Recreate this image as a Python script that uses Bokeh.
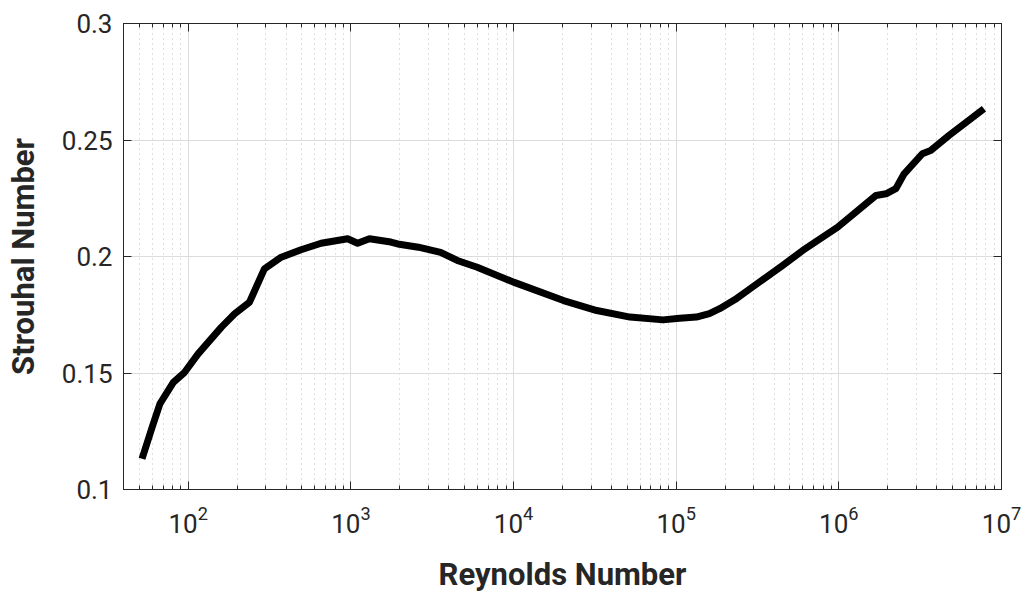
from bokeh.plotting import figure
from bokeh.models import (FixedTicker, Range1d, LogAxis, LinearAxis,
                          CustomJSTickFormatter, LogTickFormatter)
from bokeh.embed import file_html
from bokeh.resources import INLINE

# Strouhal number of a circular cylinder versus Reynolds number
reynolds = [52, 60, 67, 81, 95, 115, 160, 193, 238, 294, 373, 494, 656, 955,
            1100, 1300, 1760, 1940, 2600, 3560, 4510, 5980, 10000, 20300,
            32500, 52000, 83000, 105000, 133000, 160000, 185000, 230000,
            275000, 450000, 600000, 984000, 1.69e6, 1.95e6, 2.24e6, 2.52e6,
            3.26e6, 3.67e6, 4.75e6, 7.8e6]
strouhal = [0.1132, 0.1267, 0.1368, 0.1460, 0.1503, 0.1582, 0.1697, 0.1754,
            0.1804, 0.1947, 0.1997, 0.2029, 0.2057, 0.2076, 0.2057, 0.2076,
            0.2062, 0.2054, 0.2040, 0.2018, 0.1983, 0.1954, 0.1890, 0.1811,
            0.1768, 0.1740, 0.1728, 0.1735, 0.1740, 0.1755, 0.1776, 0.1815,
            0.1854, 0.1961, 0.2026, 0.2126, 0.2262, 0.2269, 0.2291, 0.2355,
            0.2441, 0.2455, 0.2519, 0.2634]

x_major = [1e2, 1e3, 1e4, 1e5, 1e6, 1e7]
x_minor = [m * 10.0 ** e for e in range(1, 7) for m in range(2, 10)]
y_major = [0.1, 0.15, 0.2, 0.25, 0.3]

FONT = "Roboto"
TXT = "#262626"

p = figure(width=1029, height=596, x_axis_type="log",
           x_range=Range1d(40, 1e7), y_range=Range1d(0.1, 0.3),
           output_backend="svg", toolbar_location=None,
           min_border_left=123, min_border_right=28,
           min_border_top=23, min_border_bottom=107)
p.background_fill_color = "white"
p.border_fill_color = "white"
p.outline_line_color = TXT
p.outline_line_width = 1

xt = FixedTicker(ticks=x_major, minor_ticks=x_minor)
yt = FixedTicker(ticks=y_major, minor_ticks=[])

# bottom / left axes
xa = p.xaxis[0]
xa.ticker = xt
xa.formatter = LogTickFormatter()
ya = p.yaxis[0]
ya.ticker = yt
ya.formatter = CustomJSTickFormatter(code="return String(Number(tick.toFixed(2)))")

for ax in (xa, ya):
    ax.axis_line_color = TXT
    ax.major_tick_line_color = TXT
    ax.minor_tick_line_color = TXT
    ax.major_tick_in = 8
    ax.major_tick_out = 0
    ax.minor_tick_in = 4
    ax.minor_tick_out = 0
    ax.major_label_text_font = FONT
    ax.major_label_text_font_size = "26px"
    ax.major_label_text_color = TXT
    ax.axis_label_text_font = FONT
    ax.axis_label_text_font_size = "31px"
    ax.axis_label_text_font_style = "bold"
    ax.axis_label_text_color = TXT

xa.axis_label = "Reynolds Number"
ya.axis_label = "Strouhal Number"
xa.major_label_standoff = 16
xa.axis_label_standoff = 20
ya.major_label_standoff = 11
ya.axis_label_standoff = 17

# tick marks on the top and right edges of the box
blank = CustomJSTickFormatter(code="return ''")
top = LogAxis(ticker=xt, formatter=blank)
right = LinearAxis(ticker=yt, formatter=blank)
for ax in (top, right):
    ax.axis_line_color = TXT
    ax.major_tick_line_color = TXT
    ax.minor_tick_line_color = TXT
    ax.major_tick_in = 8
    ax.major_tick_out = 0
    ax.minor_tick_in = 4
    ax.minor_tick_out = 0
    ax.major_label_standoff = 0
p.add_layout(top, "above")
p.add_layout(right, "right")

# grid
p.xgrid.ticker = xt
p.ygrid.ticker = yt
p.xgrid.grid_line_color = "#dcdcdc"
p.ygrid.grid_line_color = "#dcdcdc"
p.xgrid.minor_grid_line_color = "#bdbdbd"
p.xgrid.minor_grid_line_dash = "1 4"
p.ygrid.minor_grid_line_color = None

p.line(reynolds, strouhal, line_color="black", line_width=7,
       line_join="round", line_cap="butt")

open("out.html", "w").write(file_html(p, INLINE))
